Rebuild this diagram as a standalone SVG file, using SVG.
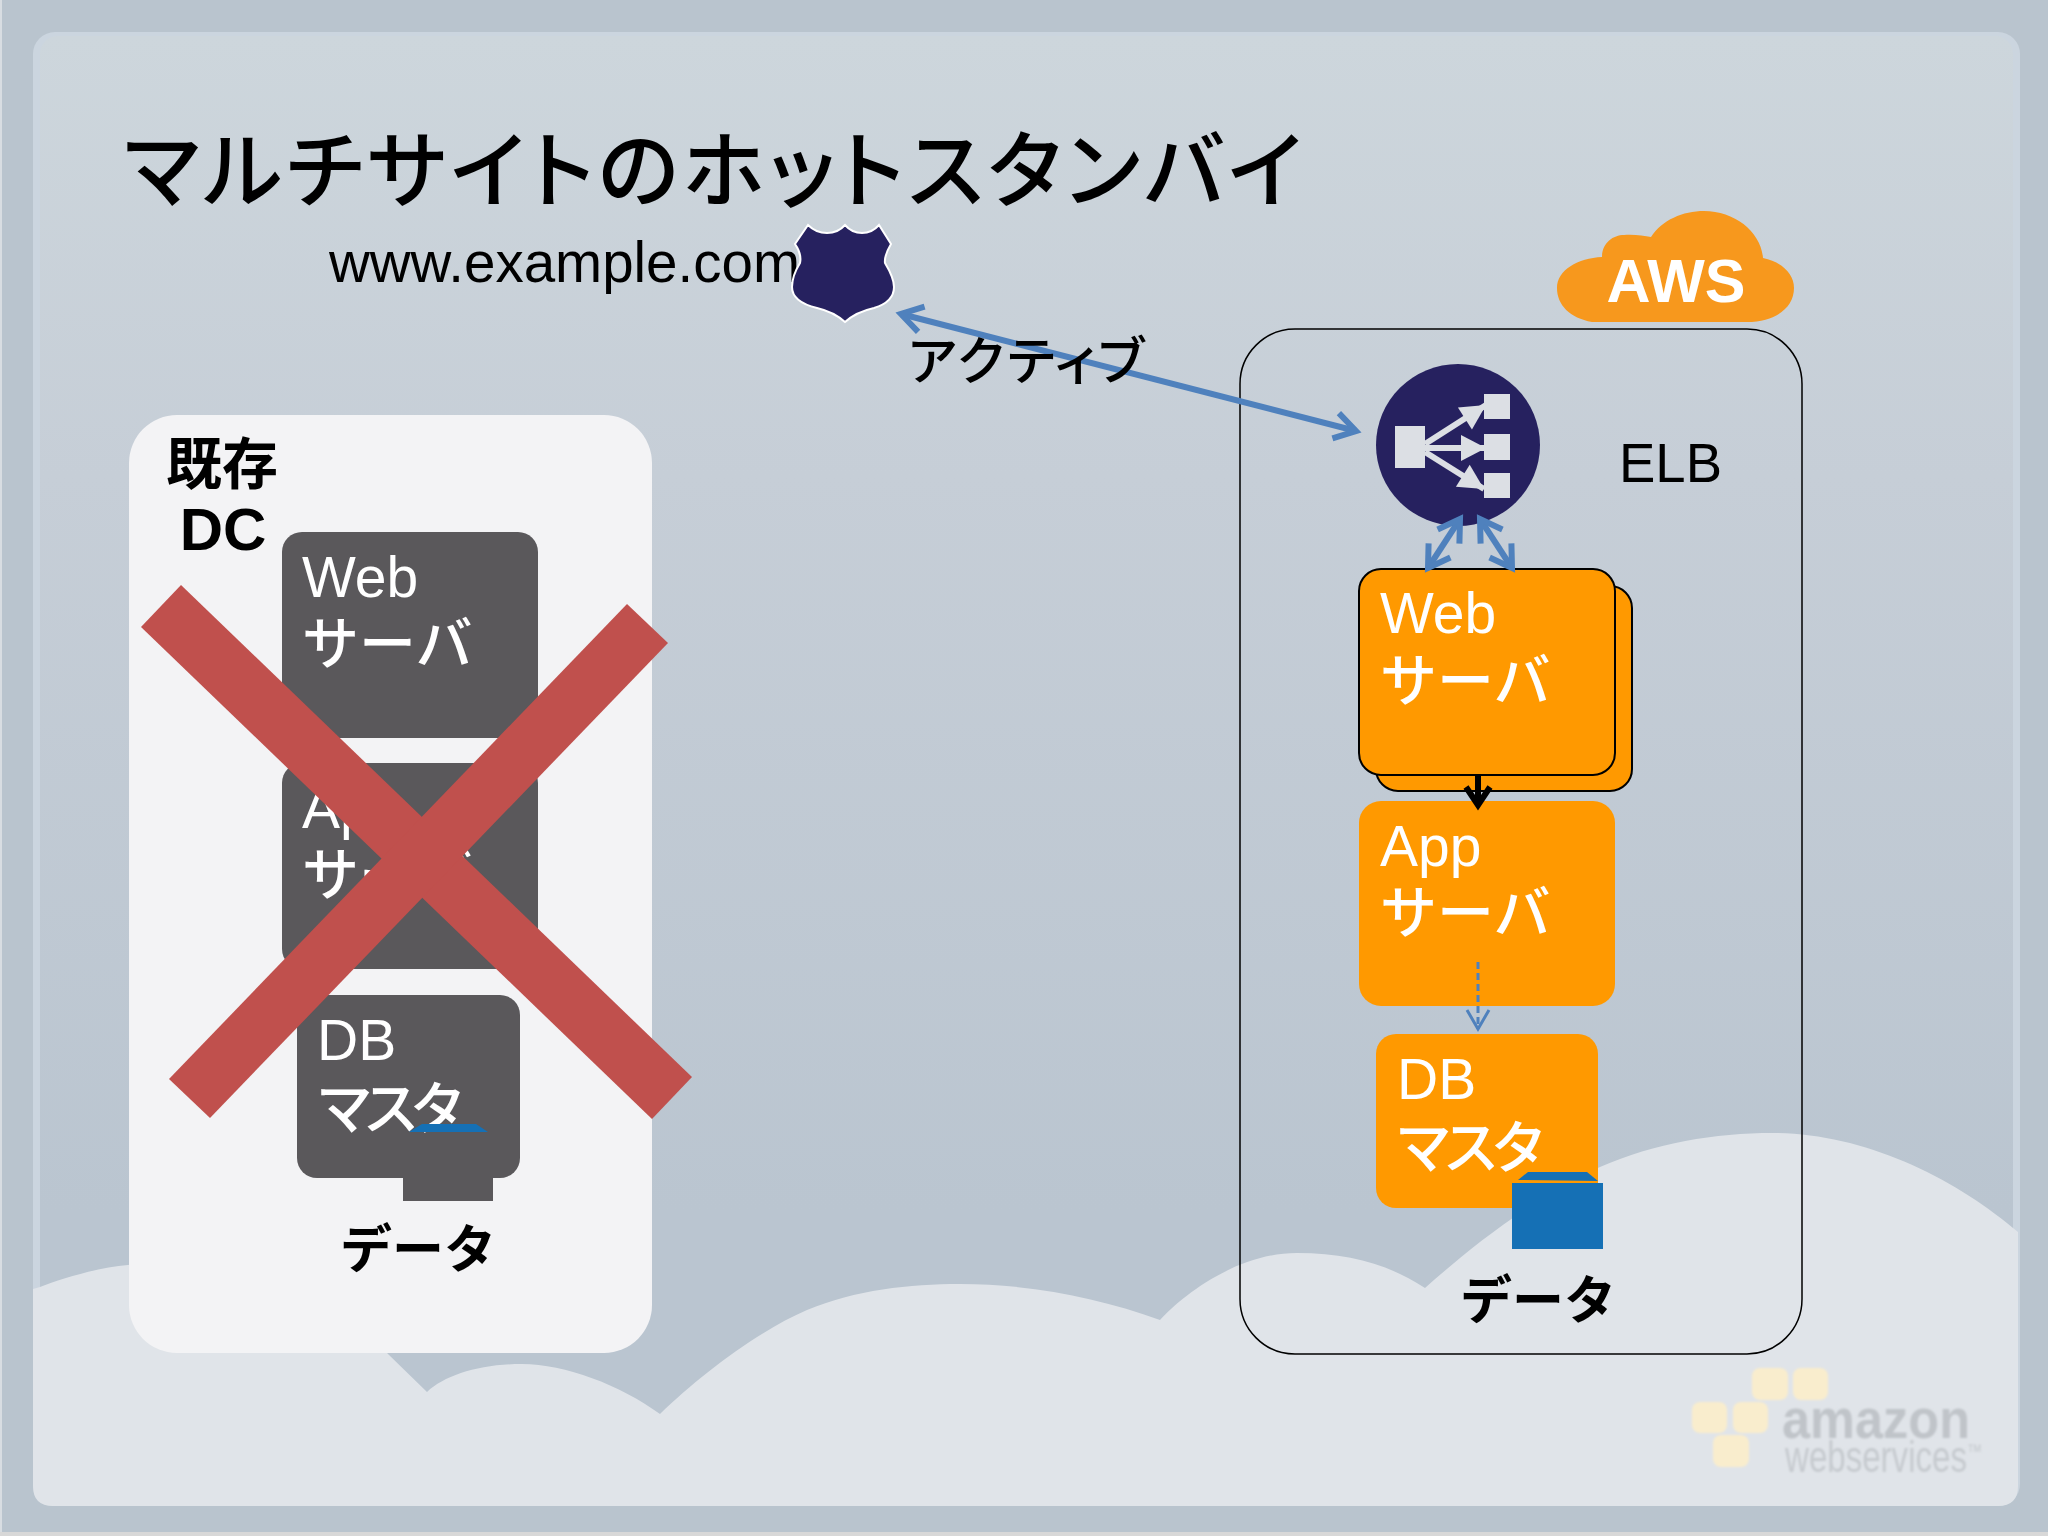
<svg xmlns="http://www.w3.org/2000/svg" width="2048" height="1536" viewBox="0 0 2048 1536">
<style>
text{font-family:"Liberation Sans","Noto Sans CJK JP",sans-serif}
.ja{font-family:"Noto Sans CJK JP","Liberation Sans",sans-serif}
.pt{font-feature-settings:"palt"}
.w{fill:#fff;font-size:57px}
.wj{fill:#fff;font-size:57px;font-weight:500}
.k{fill:#000}
.b{font-weight:700}
.org{fill:#ff9900}
.drk{fill:#5a585b}
.navy{fill:#26215f}
.sq{fill:#dcdfe4}
.blue{fill:#1570b5}
.conn{fill:none;stroke:#4f81bd;stroke-width:6;marker-end:url(#open);marker-start:url(#open)}
.cube{fill:#f9edcd}
</style>
<defs>
<linearGradient id="pg" x1="0" y1="0" x2="0" y2="1">
<stop offset="0" stop-color="#cdd6dc"/><stop offset=".3" stop-color="#c6ced7"/><stop offset=".8" stop-color="#bac5d0"/><stop offset="1" stop-color="#bac5d0"/>
</linearGradient>
<marker id="open" markerUnits="userSpaceOnUse" markerWidth="60" markerHeight="60" viewBox="-40 -30 60 60" refX="-3" refY="0" orient="auto-start-reverse"><path d="M-24,-13 L-3,0 L-24,13" fill="none" stroke="#4f81bd" stroke-width="6"/></marker>
<marker id="openThin" markerUnits="userSpaceOnUse" markerWidth="60" markerHeight="60" viewBox="-40 -30 60 60" refX="0" refY="0" orient="auto"><path d="M-19,-11 L0,0 L-19,11" fill="none" stroke="#4f81bd" stroke-width="3"/></marker>
<marker id="openBlack" markerUnits="userSpaceOnUse" markerWidth="60" markerHeight="60" viewBox="-40 -30 60 60" refX="-4" refY="0" orient="auto"><path d="M-22,-12 L-4,0 L-22,12" fill="none" stroke="#000" stroke-width="6"/></marker>
<marker id="tri" markerUnits="userSpaceOnUse" markerWidth="50" markerHeight="50" viewBox="-35 -25 50 50" refX="0" refY="0" orient="auto"><path d="M-25,-13 L0,0 L-25,13 Z" fill="#dcdfe4"/></marker>
<filter id="soft" x="-5%" y="-5%" width="110%" height="110%"><feGaussianBlur stdDeviation="1.2"/></filter>
</defs>

<g id="background">
<rect width="2048" height="1536" fill="#b9c4ce"/>
<rect x="0" y="1532" width="2048" height="4" fill="#d8d8d8"/>
<rect x="0" y="0" width="2" height="1532" fill="#d8dde2"/>
<rect x="33" y="32" width="1987" height="1474" rx="22" fill="#cbd5df"/>
<rect x="40" y="36" width="1973" height="1468" rx="18" fill="url(#pg)"/>
<path d="M33,1289 L40,1287 C60,1279 100,1267 128,1265 C220,1250 330,1280 388,1354 L427,1392 C445,1375 480,1364 522,1364 C565,1364 620,1385 660,1414 C700,1375 760,1330 807,1310 C855,1290 910,1284 960,1284 C1030,1284 1100,1298 1160,1320 C1180,1298 1235,1253 1297,1253 C1350,1253 1390,1265 1425,1288 C1470,1248 1530,1200 1600,1167 C1655,1143 1715,1133 1773,1133 C1860,1133 1950,1175 2013,1228 L2018,1232 L2018,1486 Q2018,1506 1998,1506 L53,1506 Q33,1506 33,1486 Z" fill="#e0e4e9"/>
</g>

<g id="aws-logo" filter="url(#soft)">
<rect class="cube" x="1752" y="1368" width="36" height="32" rx="8"/>
<rect class="cube" x="1793" y="1368" width="35" height="32" rx="8"/>
<rect class="cube" x="1692" y="1402" width="35" height="31" rx="8"/>
<rect class="cube" x="1733" y="1402" width="35" height="31" rx="8"/>
<rect class="cube" x="1713" y="1435" width="36" height="32" rx="8"/>
<text x="1782" y="1438" font-size="56" font-weight="700" fill="#c0c4c9" textLength="188" lengthAdjust="spacingAndGlyphs">amazon</text>
<text x="1785" y="1472" font-size="44" fill="#c6cacf" textLength="197" lengthAdjust="spacingAndGlyphs">webservices<tspan font-size="20" dy="-14">™</tspan></text>
</g>

<g id="title"><text class="ja k pt" x="124" y="201" font-size="84" font-weight="500" textLength="1178">マルチサイトのホットスタンバイ</text></g>

<g id="dns">
<text class="k" x="329" y="282" font-size="56.5">www.example.com</text>
<path class="navy" stroke="#fff" stroke-width="2" d="M808,225 Q816,233 827,233 Q838,233 845,225 Q852,233 862,233 Q872,233 879,225 L891,244 Q884,256 885,263 Q894,278 894,287 Q894,302 874,308 Q856,312 845,322 Q834,312 817,308 Q792,302 792,287 Q792,276 800,263 Q802,254 795,244 Z"/>
</g>

<g id="existing-dc">
<rect x="129" y="415" width="523" height="938" rx="48" fill="#f3f3f5"/>
<text class="ja k b" x="166" y="484" font-size="56">既存</text>
<text class="k b" x="223" y="550" font-size="60" text-anchor="middle">DC</text>
</g>
<g id="dc-web">
<rect class="drk" x="282" y="532" width="256" height="206" rx="20"/>
<text class="w" x="302" y="597">Web</text>
<text class="ja wj" x="302" y="664">サーバ</text>
</g>
<g id="dc-app">
<rect class="drk" x="282" y="763" width="256" height="206" rx="20"/>
<text class="w" x="302" y="828">App</text>
<text class="ja wj" x="302" y="895">サーバ</text>
</g>
<g id="dc-db">
<rect class="drk" x="403" y="1170" width="90" height="31"/>
<rect class="drk" x="297" y="995" width="223" height="183" rx="20"/>
<text class="w" x="317" y="1060">DB</text>
<text class="ja wj pt" x="319" y="1129" textLength="143">マスタ</text>
<path class="blue" d="M409,1132 L422,1124 L476,1124 L488,1132 Z"/>
</g>
<g id="dc-data"><text class="ja k b" x="340" y="1268" font-size="52">データ</text></g>
<g id="dc-cross">
<polygon points="181,585 692,1077 652,1119 141,627" fill="#c0504d"/>
<polygon points="627,604 668,643 210,1118 169,1079" fill="#c0504d"/>
</g>

<g id="aws-cloud">
<path fill="#f7981d" d="M1592,322 C1570,318 1557,305 1557,288 C1557,270 1578,258 1602,257 C1602,243 1613,235 1624,235 C1634,234 1644,236 1651,237 C1662,220 1683,211 1704,211 C1735,211 1761,232 1763,258 C1782,262 1794,274 1794,288 C1794,308 1775,322 1747,322 Z"/>
<text x="1676" y="302" font-size="61" font-weight="700" fill="#fff" text-anchor="middle">AWS</text>
</g>

<g id="aws-region">
<rect x="1240" y="329" width="562" height="1025" rx="55" fill="none" stroke="#000" stroke-width="1.5"/>
</g>

<g id="elb">
<ellipse class="navy" cx="1458" cy="445" rx="82" ry="81"/>
<rect class="sq" x="1395" y="426" width="30" height="42"/>
<rect class="sq" x="1484" y="394" width="26" height="25"/>
<rect class="sq" x="1484" y="434" width="26" height="26"/>
<rect class="sq" x="1484" y="473" width="26" height="25"/>
<g fill="none" stroke="#dcdfe4" stroke-width="6">
<path d="M1425,444 L1486,405" marker-end="url(#tri)"/>
<path d="M1425,448 L1486,448" marker-end="url(#tri)"/>
<path d="M1425,452 L1484,489" marker-end="url(#tri)"/>
</g>
<text class="k" x="1619" y="482" font-size="56" textLength="103" lengthAdjust="spacingAndGlyphs">ELB</text>
</g>

<g id="aws-web">
<rect class="org" x="1376" y="586" width="256" height="205" rx="22" stroke="#000" stroke-width="2"/>
<rect class="org" x="1359" y="569" width="256" height="206" rx="22" stroke="#000" stroke-width="2"/>
<text class="w" x="1380" y="633">Web</text>
<text class="ja wj" x="1380" y="701">サーバ</text>
</g>
<g id="aws-app">
<rect class="org" x="1359" y="801" width="256" height="205" rx="22"/>
<text class="w" x="1380" y="866">App</text>
<text class="ja wj" x="1380" y="933">サーバ</text>
</g>
<g id="aws-db">
<rect class="org" x="1376" y="1034" width="222" height="174" rx="20"/>
<text class="w" x="1397" y="1099">DB</text>
<text class="ja wj pt" x="1398" y="1168" textLength="145">マスタ</text>
<path class="blue" d="M1518,1180 L1528,1172 L1587,1172 L1598,1181 Z"/>
<rect class="blue" x="1512" y="1183" width="91" height="66"/>
</g>
<g id="aws-data"><text class="ja k b" x="1460" y="1319" font-size="52">データ</text></g>

<g id="connectors">
<path class="conn" d="M901,314 L1356,431"/>
<path class="conn" d="M1460,519 L1428,568"/>
<path class="conn" d="M1480,519 L1512,568"/>
<path d="M1478,775 L1478,805" fill="none" stroke="#000" stroke-width="6" marker-end="url(#openBlack)"/>
<path d="M1478,962 L1478,1029" fill="none" stroke="#4f81bd" stroke-width="3" stroke-dasharray="7 4" marker-end="url(#openThin)"/>
</g>

<g id="label-active"><text class="ja k pt" x="908" y="380" font-size="52" font-weight="500" textLength="236">アクティブ</text></g>
</svg>
